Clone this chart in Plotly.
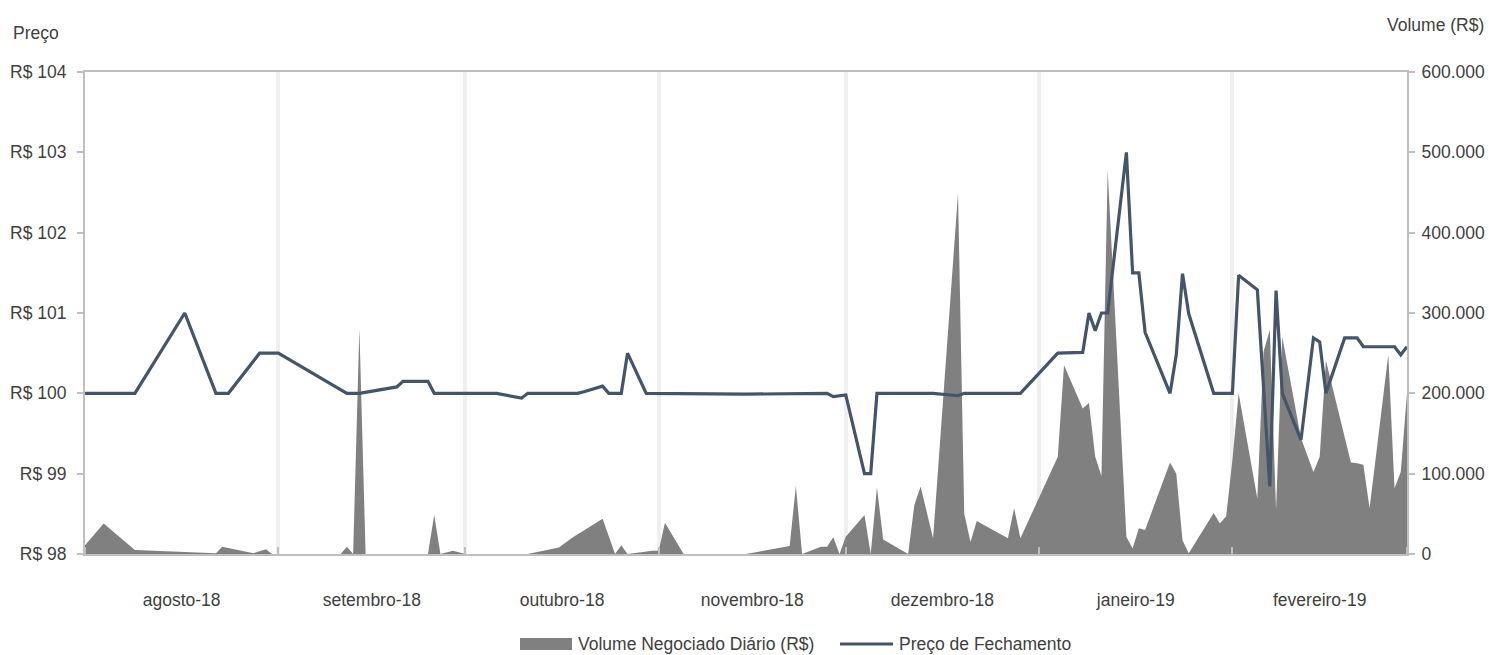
import plotly.graph_objects as go

# ---------------- data ----------------
vol_dates = [
    "2018-08-01", "2018-08-04", "2018-08-09", "2018-08-22", "2018-08-23", "2018-08-28",
    "2018-08-30", "2018-08-31", "2018-09-11", "2018-09-12", "2018-09-13", "2018-09-14",
    "2018-09-15", "2018-09-25", "2018-09-26", "2018-09-27", "2018-09-29", "2018-10-01",
    "2018-10-11", "2018-10-16", "2018-10-18", "2018-10-23", "2018-10-25", "2018-10-26",
    "2018-10-27", "2018-10-31", "2018-11-01", "2018-11-02", "2018-11-05", "2018-11-15",
    "2018-11-22", "2018-11-23", "2018-11-24", "2018-11-27", "2018-11-28", "2018-11-29",
    "2018-11-30", "2018-12-01", "2018-12-04", "2018-12-05", "2018-12-06", "2018-12-07",
    "2018-12-11", "2018-12-12", "2018-12-13", "2018-12-15", "2018-12-19", "2018-12-20",
    "2018-12-21", "2018-12-22", "2018-12-27", "2018-12-28", "2018-12-29", "2019-01-04",
    "2019-01-05", "2019-01-08", "2019-01-09", "2019-01-10", "2019-01-11", "2019-01-12",
    "2019-01-15", "2019-01-16", "2019-01-17", "2019-01-18", "2019-01-22", "2019-01-23",
    "2019-01-24", "2019-01-25", "2019-01-29", "2019-01-30", "2019-01-31", "2019-02-01",
    "2019-02-02", "2019-02-05", "2019-02-06", "2019-02-07", "2019-02-08", "2019-02-09",
    "2019-02-12", "2019-02-14", "2019-02-15", "2019-02-16", "2019-02-20", "2019-02-21",
    "2019-02-22", "2019-02-23", "2019-02-26", "2019-02-27", "2019-02-28", "2019-03-01",
]
vol_values = [
    11000, 38000, 5000, 1000, 9000, 1000,
    6000, 0, 0, 9000, 0, 281000,
    0, 0, 48500, 0, 4000, 0,
    0, 8000, 19500, 44000, 0, 11000,
    0, 4000, 4000, 39000, 0, 0,
    10000, 84600, 0, 9000, 9000, 21000,
    0, 21600, 48500, 0, 83000, 18000,
    0, 61000, 84000, 19500, 449000, 50000,
    15000, 41000, 19500, 57000, 19500, 121000,
    235000, 181000, 188000, 121000, 97000, 478000,
    21600, 7000, 32000, 30000, 114000, 100000,
    17000, 1000, 51000, 38000, 47000, 117000,
    200000, 69000, 252000, 279000, 55000, 270000,
    144000, 102000, 121000, 241000, 114000, 113000,
    111000, 57000, 248000, 82000, 102000, 200000,
]

price_dates = [
    "2018-08-01", "2018-08-09", "2018-08-17", "2018-08-22", "2018-08-24", "2018-08-29",
    "2018-09-01", "2018-09-12", "2018-09-14", "2018-09-20", "2018-09-21", "2018-09-25",
    "2018-09-26", "2018-10-06", "2018-10-10", "2018-10-11", "2018-10-19", "2018-10-20",
    "2018-10-23", "2018-10-24", "2018-10-26", "2018-10-27", "2018-10-30", "2018-11-15",
    "2018-11-28", "2018-11-29", "2018-12-01", "2018-12-04", "2018-12-05", "2018-12-06",
    "2018-12-15", "2018-12-19", "2018-12-20", "2018-12-29", "2019-01-04", "2019-01-08",
    "2019-01-09", "2019-01-10", "2019-01-11", "2019-01-12", "2019-01-15", "2019-01-16",
    "2019-01-17", "2019-01-18", "2019-01-22", "2019-01-23", "2019-01-24", "2019-01-25",
    "2019-01-29", "2019-02-01", "2019-02-02", "2019-02-05", "2019-02-07", "2019-02-08",
    "2019-02-09", "2019-02-12", "2019-02-14", "2019-02-15", "2019-02-16", "2019-02-19",
    "2019-02-21", "2019-02-22", "2019-02-27", "2019-02-28", "2019-03-01",
]
price_values = [
    100.0, 100.0, 101.0, 100.0, 100.0, 100.5,
    100.5, 100.0, 100.0, 100.08, 100.15, 100.15,
    100.0, 100.0, 99.94, 100.0, 100.0, 100.02,
    100.09, 100.0, 100.0, 100.5, 100.0, 99.99,
    100.0, 99.96, 99.98, 99.0, 99.0, 100.0,
    100.0, 99.97, 100.0, 100.0, 100.5, 100.51,
    101.0, 100.78, 101.0, 101.0, 103.0, 101.5,
    101.5, 100.76, 100.0, 100.48, 101.49, 100.99,
    100.0, 100.0, 101.47, 101.29, 98.84, 101.28,
    100.0, 99.42, 100.69, 100.64, 100.0, 100.69,
    100.69, 100.58, 100.58, 100.48, 100.58,
]

month_starts = ["2018-08-01", "2018-09-01", "2018-10-01", "2018-11-01", "2018-12-01",
                "2019-01-01", "2019-02-01", "2019-03-01"]
month_mids = ["2018-08-16 12:00", "2018-09-16", "2018-10-16 12:00", "2018-11-16",
              "2018-12-16 12:00", "2019-01-16 12:00", "2019-02-15"]
month_labels = ["agosto-18", "setembro-18", "outubro-18", "novembro-18",
                "dezembro-18", "janeiro-19", "fevereiro-19"]

series_names = ["Volume Negociado Diário (R$)", "Preço de Fechamento"]

# ---------------- styling ----------------
FONT = "Liberation Sans, Arial, sans-serif"
FS = 17.5
TXT = "#404040"
AXC = "#bfbfbf"
VOL_C = "#808080"
PRICE_C = "#44546a"

W, H = 1489, 655
L, R, T, B = 85, 1407, 72, 554


def px_x(px):
    return (px - L) / (R - L)


def px_y(py):
    return (B - py) / (B - T)


fig = go.Figure()
fig.add_trace(go.Scatter(
    x=vol_dates, y=vol_values, yaxis="y", mode="lines", fill="tozeroy",
    line=dict(width=0, color=VOL_C), fillcolor=VOL_C, name=series_names[0],
    showlegend=False,
))
fig.add_trace(go.Scatter(
    x=price_dates, y=price_values, yaxis="y2", mode="lines",
    line=dict(width=3.2, color=PRICE_C), name=series_names[1], showlegend=False,
))

fig.update_layout(
    width=W, height=H,
    margin=dict(l=L, r=W - R, t=T, b=H - B, pad=0, autoexpand=False),
    paper_bgcolor="white", plot_bgcolor="white",
    font=dict(family=FONT, size=FS, color=TXT),
    separators=",.",
    xaxis=dict(
        type="date", automargin=False,
        range=["2018-08-01", "2019-03-01"],
        tickmode="array", tickvals=month_mids, ticktext=month_labels,
        ticks="", showgrid=False, zeroline=False,
        showline=True, linecolor=AXC, linewidth=2, mirror=True,
        ticklabelstandoff=29,
        tickfont=dict(size=FS, color=TXT, family=FONT),
        minor=dict(tickmode="array", tickvals=month_starts, showgrid=True,
                   gridcolor="#efefef", gridwidth=4, ticks="inside", ticklen=7,
                   tickcolor=AXC, tickwidth=2),
    ),
    yaxis=dict(
        side="right", automargin=False, range=[0, 600000], tickmode="linear",
        tick0=0, dtick=100000,
        tickformat=",d", showgrid=False, zeroline=False,
        showline=True, linecolor=AXC, linewidth=2,
        ticks="outside", ticklen=6, tickcolor=AXC, tickwidth=2,
        ticklabelstandoff=3,
        tickfont=dict(size=FS, color=TXT, family=FONT),
    ),
    yaxis2=dict(
        side="left", overlaying="y", automargin=False, range=[98, 104],
        tickmode="linear", tick0=98,
        dtick=1, tickprefix="R$ ", showgrid=False, zeroline=False,
        showline=True, linecolor=AXC, linewidth=2,
        ticks="outside", ticklen=6, tickcolor=AXC, tickwidth=2,
        ticklabelstandoff=7,
        tickfont=dict(size=FS, color=TXT, family=FONT),
    ),
)

annotations = [
    dict(text="Preço", x=px_x(11), y=px_y(33), xref="paper", yref="paper",
         xanchor="left", yanchor="middle", showarrow=False,
         font=dict(size=FS, color=TXT, family=FONT)),
    dict(text="Volume (R$)", x=px_x(1486), y=px_y(25), xref="paper", yref="paper",
         xanchor="right", yanchor="middle", showarrow=False,
         font=dict(size=FS, color=TXT, family=FONT)),
    dict(text=series_names[0], x=px_x(576), y=px_y(644), xref="paper", yref="paper",
         xanchor="left", yanchor="middle", showarrow=False,
         font=dict(size=FS, color=TXT, family=FONT)),
    dict(text=series_names[1], x=px_x(897), y=px_y(644), xref="paper", yref="paper",
         xanchor="left", yanchor="middle", showarrow=False,
         font=dict(size=FS, color=TXT, family=FONT)),
]
shapes = [
    dict(type="rect", xref="paper", yref="paper", x0=px_x(520), x1=px_x(572),
         y0=px_y(650), y1=px_y(638), fillcolor=VOL_C, line=dict(width=0)),
    dict(type="line", xref="paper", yref="paper", x0=px_x(840), x1=px_x(893),
         y0=px_y(644), y1=px_y(644), line=dict(color=PRICE_C, width=3)),
]
fig.update_layout(annotations=annotations, shapes=shapes)

fig.write_html("out.html")
